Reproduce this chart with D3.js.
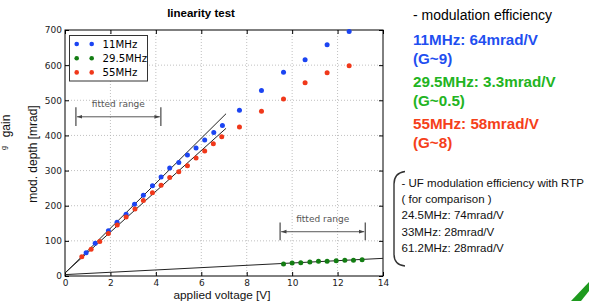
<!DOCTYPE html>
<html>
<head>
<meta charset="utf-8">
<script src="https://cdn.jsdelivr.net/npm/d3@7"></script>
<style>
  body { margin: 0; background: #fff; }
  svg { display: block; }
</style>
</head>
<body>
<div id="chart"></div>
<script>
// 11MHz
const volt11 = [0.93, 1.33, 1.91, 2.29, 2.69, 3.06, 3.45, 3.85, 4.23, 4.61, 5.01, 5.39, 5.77, 6.15, 6.55, 6.93, 7.68, 8.65, 9.62, 10.57, 11.54, 12.51];
const depth11 = [66, 93, 129, 153, 176, 204, 230, 257, 282, 307, 323, 344, 364, 387, 408, 428, 472, 528, 580, 615, 658, 696];
// 29.5MHz
const volt29 = [9.62, 10.0, 10.38, 10.78, 11.16, 11.54, 11.94, 12.32, 12.70, 13.08];
const depth29 = [34, 37, 38, 40, 42, 42, 43.5, 45, 45, 46.5];
// 55MHz
const volt55 = [0.74, 1.15, 1.53, 1.91, 2.30, 2.69, 3.08, 3.45, 3.85, 4.23, 4.61, 5.01, 5.39, 5.77, 6.15, 6.53, 6.90, 7.68, 8.65, 9.62, 10.57, 11.54, 12.51];
const depth55 = [55, 76, 98, 121, 145, 168, 191, 215, 237, 258, 280, 297, 314, 336, 356, 376, 396, 424, 469, 504, 550, 578, 598];

const seriesNames = ["11MHz", "29.5MHz", "55MHz"];
const seriesColors = ["#1b44f2", "#137d13", "#f0381a"];

// linear fits: [slope, intercept, vStart, vEnd]
const fit11 = [64, 8, 0, 7.09];
const fit55 = [58, 9, 0, 7.09];
const fit29 = [3.3, 4, 0, 14];

// fitted range markers: [vFrom, vTo, barLow, barHigh, arrowAt, labelAt]
const range1 = [0.48, 4.22, 427, 480, 453, 490];
const range2 = [9.47, 13.22, 102, 152, 126, 162];

const xTicks = [0, 2, 4, 6, 8, 10, 12, 14];
const yTicks = [0, 100, 200, 300, 400, 500, 600, 700];

const efficiencyLines = [
  ["11MHz: 64mrad/V", "#1f4ff0"],
  ["(G~9)", "#1f4ff0"],
  ["29.5MHz: 3.3mrad/V", "#22b422"],
  ["(G~0.5)", "#22b422"],
  ["55MHz: 58mrad/V", "#f5401a"],
  ["(G~8)", "#f5401a"]
];
const ufLines = [
  "- UF modulation efficiency with RTP",
  "( for comparison )",
  "24.5MHz: 74mrad/V",
  "33MHz: 28mrad/V",
  "61.2MHz: 28mrad/V"
];

const W = 589, H = 301;
const plot = { left: 65, right: 383, top: 30, bottom: 276 };

const svg = d3.select("#chart").append("svg")
  .attr("width", W).attr("height", H);

const x = d3.scaleLinear().domain([0, 14]).range([plot.left, plot.right]);
const y = d3.scaleLinear().domain([0, 700]).range([plot.bottom, plot.top]);

// grid
const grid = svg.append("g").attr("stroke", "#b0b0b0").attr("stroke-width", 0.8)
  .attr("stroke-dasharray", "1,2");
grid.selectAll(".gx").data(xTicks.slice(1, -1)).enter().append("line")
  .attr("x1", d => x(d)).attr("x2", d => x(d))
  .attr("y1", plot.top).attr("y2", plot.bottom);
grid.selectAll(".gy").data(yTicks.slice(1, -1)).enter().append("line")
  .attr("x1", plot.left).attr("x2", plot.right)
  .attr("y1", d => y(d)).attr("y2", d => y(d));

// axes, inward ticks
function styleAxis(g) {
  g.select(".domain").remove();
  g.selectAll("text").attr("font-family", "DejaVu Sans").attr("font-size", 9).attr("fill", "#222");
  g.selectAll("line").attr("stroke", "#000");
}
svg.append("g").attr("transform", `translate(0,${plot.bottom})`)
  .call(d3.axisBottom(x).tickValues(xTicks).tickSize(-4).tickPadding(4))
  .call(styleAxis);
svg.append("g").attr("transform", `translate(0,${plot.top})`)
  .call(d3.axisTop(x).tickValues(xTicks).tickSize(-4).tickFormat(""))
  .call(styleAxis);
svg.append("g").attr("transform", `translate(${plot.left},0)`)
  .call(d3.axisLeft(y).tickValues(yTicks).tickSize(-4).tickPadding(3))
  .call(styleAxis);
svg.append("g").attr("transform", `translate(${plot.right},0)`)
  .call(d3.axisRight(y).tickValues(yTicks).tickSize(-4).tickFormat(""))
  .call(styleAxis);

svg.append("rect")
  .attr("x", plot.left).attr("y", plot.top)
  .attr("width", plot.right - plot.left).attr("height", plot.bottom - plot.top)
  .attr("fill", "none").attr("stroke", "#000").attr("stroke-width", 1);

// fit lines
[fit11, fit55, fit29].forEach(f => {
  svg.append("line")
    .attr("x1", x(f[2])).attr("y1", y(f[0] * f[2] + f[1]))
    .attr("x2", x(f[3])).attr("y2", y(f[0] * f[3] + f[1]))
    .attr("stroke", "#222").attr("stroke-width", 1);
});

// fitted range annotations
const defs = svg.append("defs");
defs.append("marker").attr("id", "arr").attr("viewBox", "0 0 10 10")
  .attr("refX", 10).attr("refY", 5).attr("markerWidth", 6).attr("markerHeight", 6)
  .attr("orient", "auto-start-reverse")
  .append("path").attr("d", "M0,1.5 L10,5 L0,8.5 Z").attr("fill", "#444");

[range1, range2].forEach(r => {
  const g = svg.append("g").attr("stroke", "#555").attr("stroke-width", 1.3);
  g.append("line").attr("x1", x(r[0])).attr("x2", x(r[0])).attr("y1", y(r[2])).attr("y2", y(r[3]));
  g.append("line").attr("x1", x(r[1])).attr("x2", x(r[1])).attr("y1", y(r[2])).attr("y2", y(r[3]));
  g.append("line").attr("x1", x(r[0]) + 1).attr("x2", x(r[1]) - 1)
    .attr("y1", y(r[4])).attr("y2", y(r[4]))
    .attr("stroke", "#444").attr("stroke-width", 0.9)
    .attr("marker-start", "url(#arr)").attr("marker-end", "url(#arr)");
  svg.append("text").attr("x", (x(r[0]) + x(r[1])) / 2).attr("y", y(r[5]))
    .attr("dy", "0.35em").attr("text-anchor", "middle")
    .attr("font-family", "DejaVu Sans").attr("font-size", 9).attr("fill", "#555")
    .text("fitted range");
});

// points
const pointSets = [
  volt11.map((v, i) => [v, depth11[i]]),
  volt29.map((v, i) => [v, depth29[i]]),
  volt55.map((v, i) => [v, depth55[i]])
];
pointSets.forEach((pts, k) => {
  svg.append("g").selectAll("circle").data(pts).enter().append("circle")
    .attr("cx", d => x(d[0])).attr("cy", d => y(d[1])).attr("r", 2.5)
    .attr("fill", seriesColors[k]);
});

// legend
const leg = svg.append("g");
leg.append("rect").attr("x", 69.5).attr("y", 35.5).attr("width", 78).attr("height", 45.5)
  .attr("fill", "#fff").attr("stroke", "#333").attr("stroke-width", 1);
seriesNames.forEach((name, i) => {
  const cy = 44 + i * 14.2;
  [76.7, 91.7].forEach(cx => {
    leg.append("circle").attr("cx", cx).attr("cy", cy).attr("r", 2.3).attr("fill", seriesColors[i]);
  });
  leg.append("text").attr("x", 102.5).attr("y", cy).attr("dy", "0.36em")
    .attr("font-family", "DejaVu Sans").attr("font-size", 10.2).attr("fill", "#000")
    .text(name);
});

// titles / labels
svg.append("text").attr("x", 201).attr("y", 17).attr("text-anchor", "middle")
  .attr("font-family", "Liberation Sans").attr("font-weight", "bold").attr("font-size", 11.5)
  .text("linearity test");
svg.append("text").attr("x", 222).attr("y", 298.5).attr("text-anchor", "middle")
  .attr("font-family", "Liberation Sans").attr("font-size", 11.8).attr("fill", "#111")
  .text("applied voltage [V]");
svg.append("text").attr("transform", "translate(37,154) rotate(-90)").attr("text-anchor", "middle")
  .attr("font-family", "Liberation Sans").attr("font-size", 12).attr("fill", "#111")
  .text("mod. depth [mrad]");
svg.append("text").attr("transform", "translate(9.5,126) rotate(-90)").attr("text-anchor", "middle")
  .attr("font-family", "Liberation Sans").attr("font-size", 12).attr("fill", "#111")
  .text("gain");
svg.append("text").attr("transform", "translate(6,148) rotate(-90)").attr("text-anchor", "middle")
  .attr("font-family", "Liberation Sans").attr("font-size", 7).attr("fill", "#111")
  .text("g");

// right side notes
svg.append("text").attr("x", 413).attr("y", 20)
  .attr("font-family", "Liberation Sans").attr("font-size", 14).attr("fill", "#000")
  .text("- modulation efficiency");
const effBase = [45, 64, 87, 106, 129, 148];
efficiencyLines.forEach((l, i) => {
  svg.append("text").attr("x", 413).attr("y", effBase[i])
    .attr("font-family", "Liberation Sans").attr("font-weight", "bold").attr("font-size", 15.2)
    .attr("fill", l[1]).text(l[0]);
});
ufLines.forEach((t, i) => {
  svg.append("text").attr("x", 401.5).attr("y", 186.5 + i * 16.4)
    .attr("font-family", "Liberation Sans").attr("font-size", 11.5).attr("fill", "#111")
    .text(t);
});
svg.append("path")
  .attr("d", "M405,171.5 Q394,173 394,184 L394,254 Q394,265 405,266")
  .attr("fill", "none").attr("stroke", "#333").attr("stroke-width", 1.4);

// green corner stroke
svg.append("path").attr("d", "M571,301 L589,282 L589,291 L581,301 Z").attr("fill", "#1e9a1e");
</script>
</body>
</html>
